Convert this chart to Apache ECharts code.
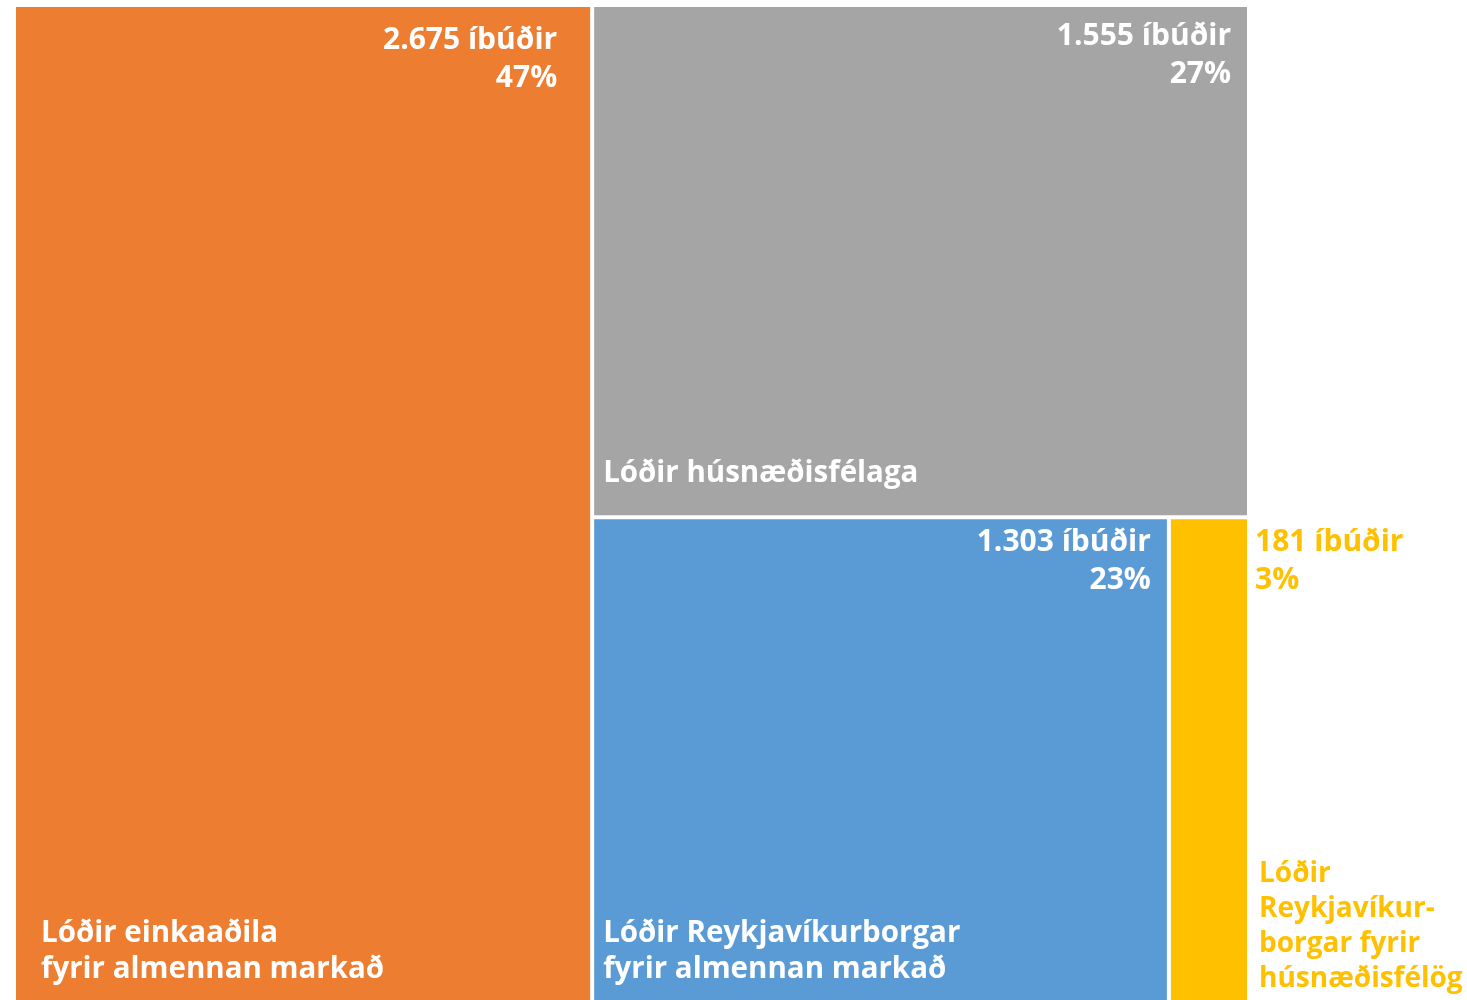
<!DOCTYPE html>
<html>
<head>
<meta charset="utf-8">
<script src="https://cdn.jsdelivr.net/npm/echarts@6/dist/echarts.min.js"></script>
<style>
html, body { margin: 0; padding: 0; background: #fff; }
#chart { width: 1467px; height: 1000px; }
</style>
</head>
<body>
<div id="chart"></div>
<script>
// lóðir og fjöldi íbúða
var categories = [
    'Lóðir einkaaðila\nfyrir almennan markað',
    'Lóðir húsnæðisfélaga',
    'Lóðir Reykjavíkurborgar\nfyrir almennan markað',
    'Lóðir\nReykjavíkur-\nborgar fyrir\nhúsnæðisfélög'
];
var values = [2675, 1555, 1303, 181];
var colors = ['#ED7D31', '#A5A5A5', '#5B9BD5', '#FFC000'];
var unit = 'íbúðir';

var total = values.reduce(function (a, b) { return a + b; }, 0);
var font = '"Open Sans", sans-serif';

function fmt(v) {
    return String(v).replace(/\B(?=(\d{3})+(?!\d))/g, '.');
}

// label tweaks per box (yellow box is narrow, labels sit outside it)
var valueLabels = [
    { position: 'insideTopRight', align: 'right', offset: [-28, 9] },
    { position: 'insideTopRight', align: 'right', offset: [-11, 5] },
    { position: 'insideTopRight', align: 'right', offset: [-11, -1] },
    { position: ['100%', 0], align: 'left', offset: [8, 4], color: '#FFC000', padding: [0, -300, 0, 0] }
];
var nameLabels = [
    { position: 'insideBottomLeft', offset: [20, -11] },
    { position: 'insideBottomLeft', offset: [4, -19] },
    { position: 'insideBottomLeft', offset: [4, -11] },
    { position: ['100%', '100%'], verticalAlign: 'bottom', offset: [12, -7], lineHeight: 35, fontSize: 28,
      color: '#FFC000', padding: [0, -300, 0, 0] }
];

var box = { left: 12, top: 3, width: 1239, height: 1005 };

var mainData = values.map(function (v, i) {
    return {
        name: categories[i],
        value: v,
        itemStyle: { color: colors[i] },
        label: valueLabels[i]
    };
});
var nameData = values.map(function (v, i) {
    return {
        name: categories[i],
        value: v,
        label: nameLabels[i]
    };
});

var chart = echarts.init(document.getElementById('chart'));

var option = {
    animation: false,
    series: [
        {
            type: 'treemap',
            left: box.left, top: box.top, width: box.width, height: box.height,
            squareRatio: 1,
            roam: false,
            nodeClick: false,
            breadcrumb: { show: false },
            levels: [{ color: colors, colorMappingBy: 'index' }],
            itemStyle: { borderWidth: 2, borderColor: '#fff', gapWidth: 0 },
            label: {
                show: true,
                distance: 0,
                color: '#fff',
                fontFamily: font,
                fontWeight: 700,
                fontSize: 30,
                lineHeight: 38,
                overflow: 'none',
                formatter: function (p) {
                    return fmt(p.value) + ' ' + unit + '\n' + Math.round(p.value / total * 100) + '%';
                }
            },
            emphasis: { disabled: true },
            data: mainData
        },
        {
            // second pass only for the category names, boxes invisible
            type: 'treemap',
            left: box.left, top: box.top, width: box.width, height: box.height,
            squareRatio: 1,
            roam: false,
            nodeClick: false,
            silent: true,
            breadcrumb: { show: false },
            levels: [{ color: ['rgba(0,0,0,0)'] }],
            itemStyle: { borderWidth: 2, borderColor: 'rgba(0,0,0,0)', color: 'rgba(0,0,0,0)', gapWidth: 0 },
            label: {
                show: true,
                distance: 0,
                color: '#fff',
                fontFamily: font,
                fontWeight: 700,
                fontSize: 29.5,
                lineHeight: 36,
                align: 'left',
                overflow: 'none',
                formatter: '{b}'
            },
            emphasis: { disabled: true },
            data: nameData
        }
    ]
};

chart.setOption(option);
</script>
</body>
</html>
